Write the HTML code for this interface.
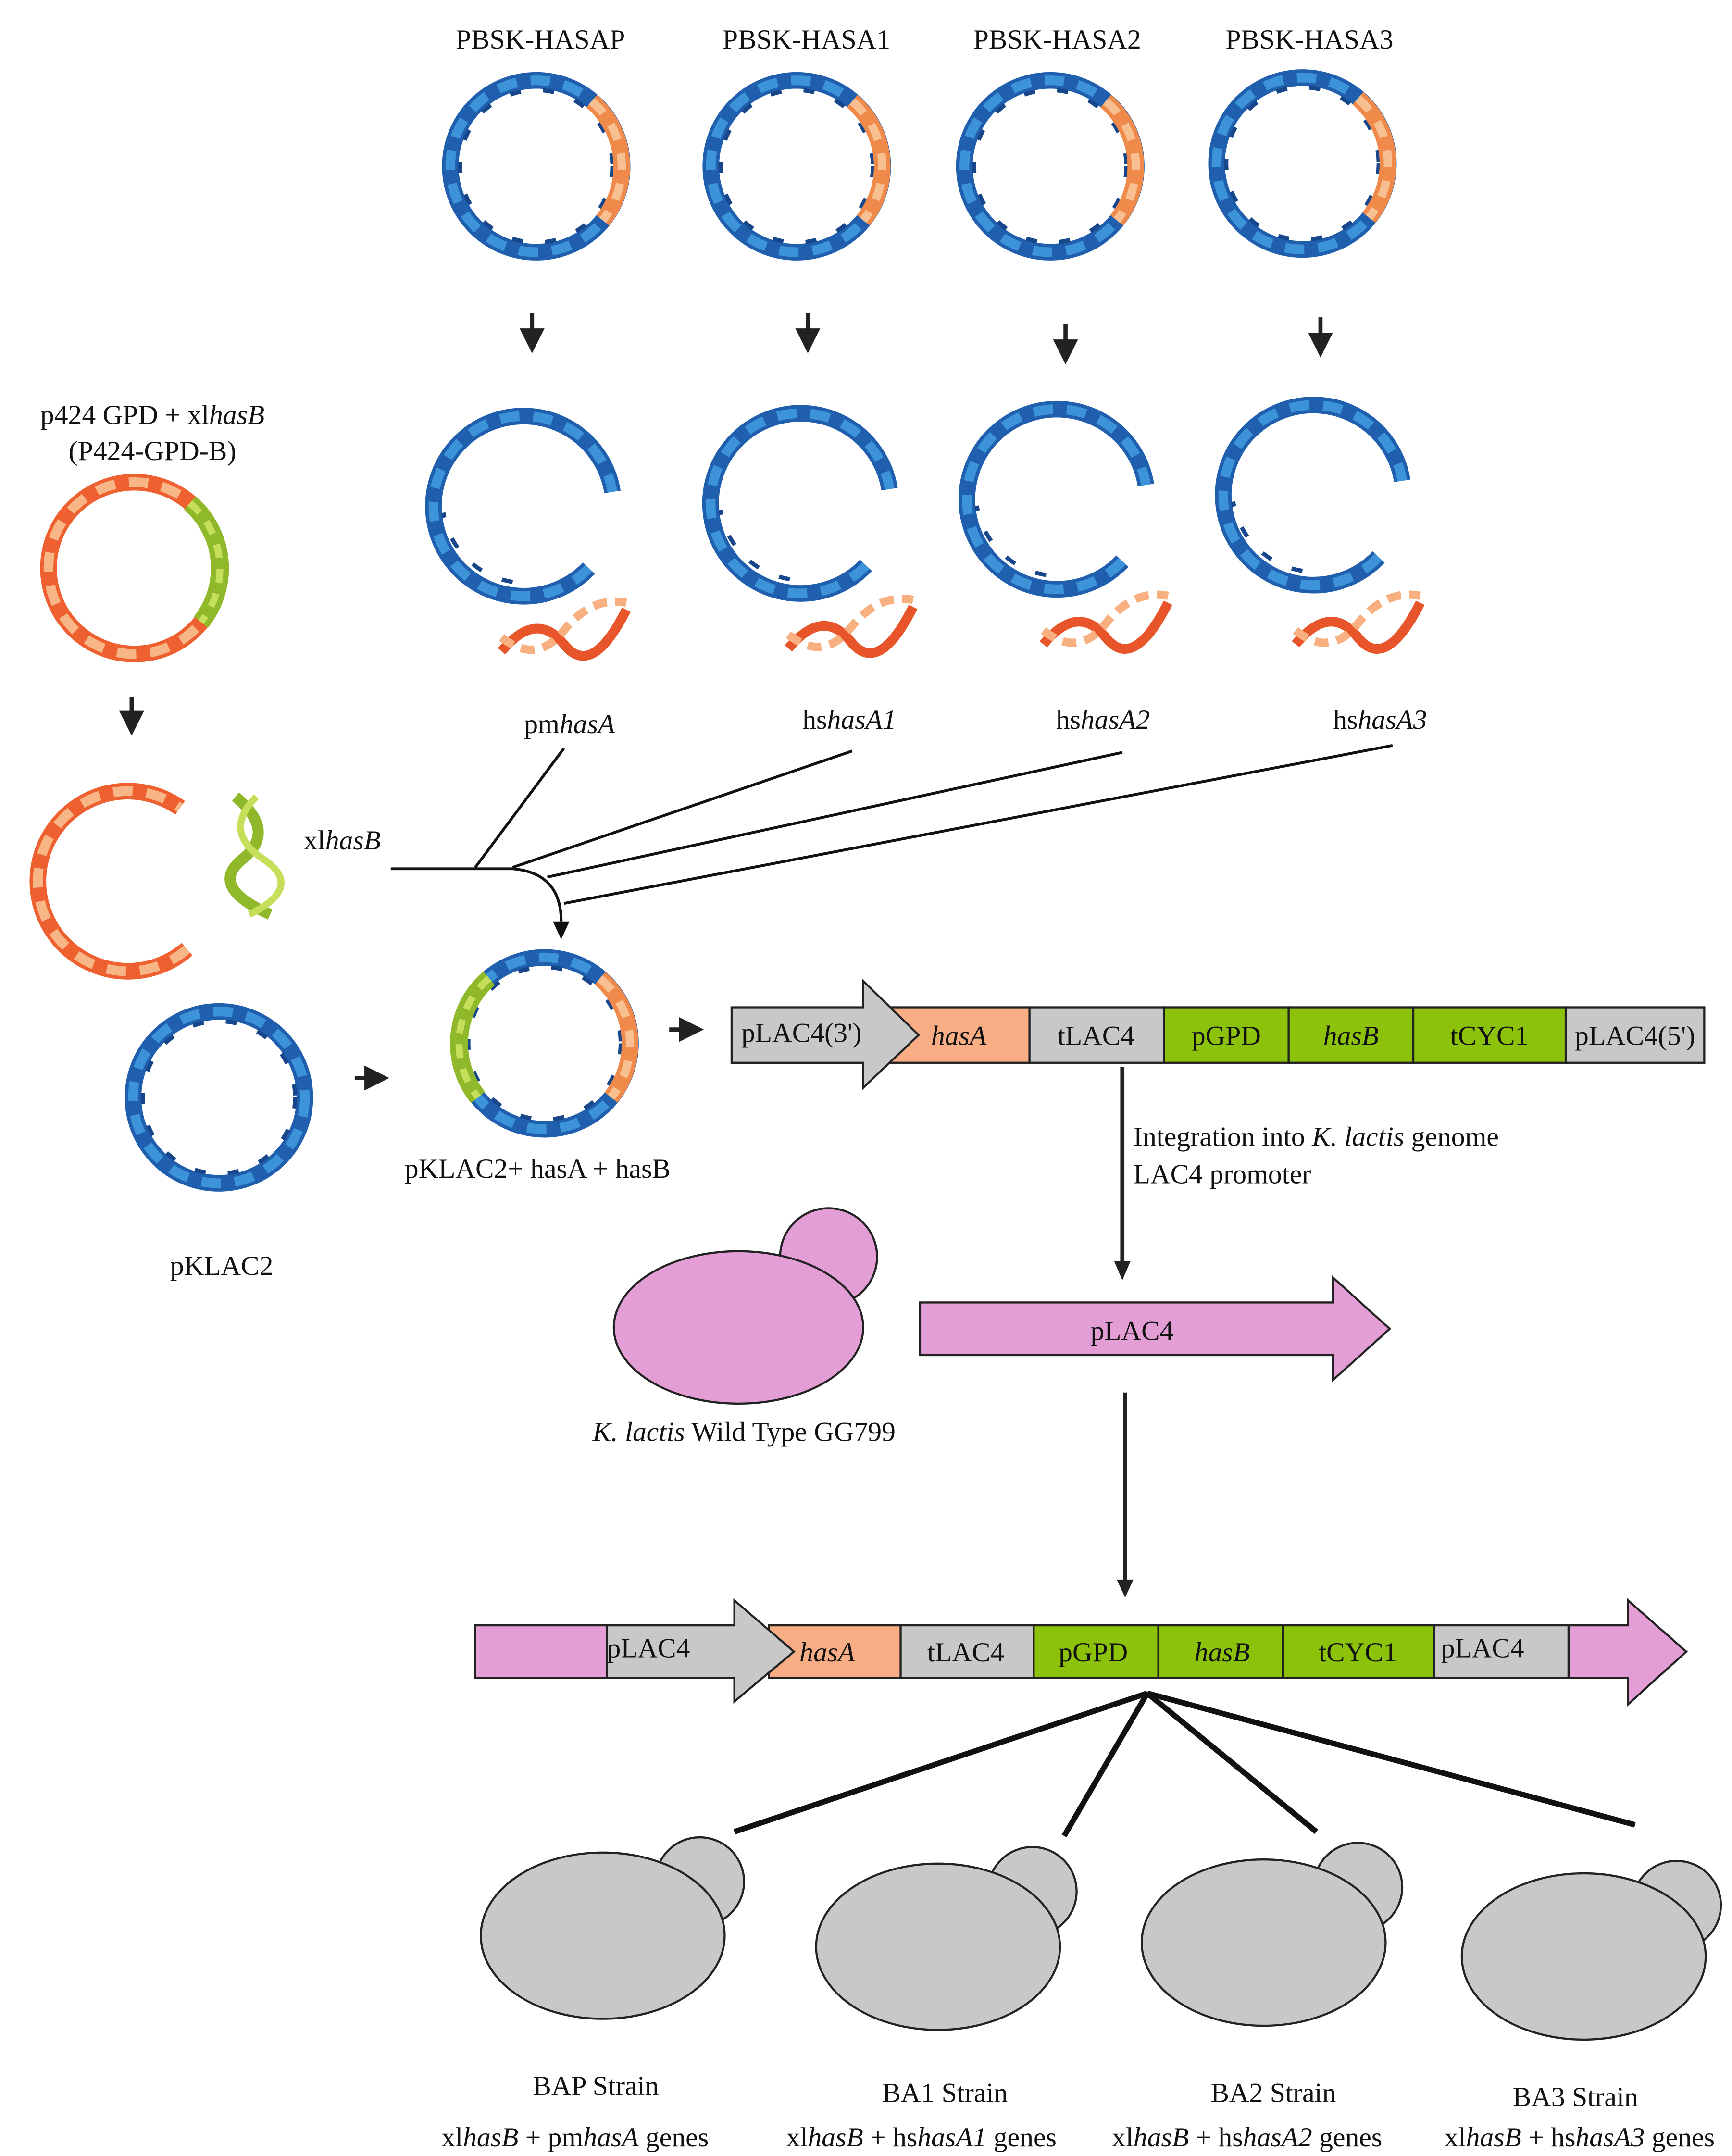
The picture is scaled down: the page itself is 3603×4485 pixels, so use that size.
<!DOCTYPE html>
<html><head><meta charset="utf-8"><style>
html,body{margin:0;padding:0;background:#fff}
svg{display:block}
text{font-family:"Liberation Serif",serif;font-size:20px;fill:#111}
</style></head><body>
<svg width="3603" height="4485" viewBox="0 0 1250 1556" xmlns="http://www.w3.org/2000/svg">
<defs>
<marker id="ah" markerWidth="6" markerHeight="6" refX="3" refY="3" orient="auto" markerUnits="strokeWidth"><path d="M0,0L6,3L0,6z" fill="#222"/></marker>
<g id="bluering">
<circle r="62" fill="none" stroke="#1f5fae" stroke-width="12"/>
<circle r="62" fill="none" stroke="#3d93d8" stroke-width="7" stroke-dasharray="14 10"/>
<circle r="55" fill="none" stroke="#17468a" stroke-width="3" stroke-dasharray="8 16"/>
</g>
<g id="orangeseg">
<path d="M40,-47 A62,62 0 0 1 48,39" fill="none" stroke="#f08a4b" stroke-width="12"/>
<path d="M40,-47 A62,62 0 0 1 48,39" fill="none" stroke="#f8c090" stroke-width="6" stroke-dasharray="12 10"/>
</g>
<g id="openring">
<path d="M45,50 A65,65 0 1 1 62,-5" fill="none" stroke="#1f5fae" stroke-width="12"/>
<path d="M45,50 A65,65 0 1 1 62,-5" fill="none" stroke="#3d93d8" stroke-width="7" stroke-dasharray="14 10"/>
<path d="M-10,60 A60,60 0 0 1 -60,10" fill="none" stroke="#17468a" stroke-width="3" stroke-dasharray="8 16"/>
</g>
<g id="frag">
<path d="M-45,10 Q-20,-20 0,5 T45,-20" fill="none" stroke="#e8552a" stroke-width="7"/>
<path d="M-45,0 Q-20,20 0,-5 T45,-25" fill="none" stroke="#f8b080" stroke-width="6" stroke-dasharray="10 6"/>
</g>
<g id="orangering">
<circle r="62" fill="none" stroke="#ee6030" stroke-width="12"/>
<circle r="62" fill="none" stroke="#f8b585" stroke-width="7" stroke-dasharray="14 10"/>
</g>
</defs>

<!-- top labels -->
<g text-anchor="middle">
<text x="390" y="35">PBSK-HASAP</text>
<text x="582" y="35">PBSK-HASA1</text>
<text x="763" y="35">PBSK-HASA2</text>
<text x="945" y="35">PBSK-HASA3</text>
</g>
<g transform="translate(387,120)"><use href="#bluering"/><use href="#orangeseg"/></g>
<g transform="translate(575,120)"><use href="#bluering"/><use href="#orangeseg"/></g>
<g transform="translate(758,120)"><use href="#bluering"/><use href="#orangeseg"/></g>
<g transform="translate(940,118)"><use href="#bluering"/><use href="#orangeseg"/></g>

<g stroke="#222" stroke-width="3" marker-end="url(#ah)">
<line x1="384" y1="226" x2="384" y2="246"/>
<line x1="583" y1="226" x2="583" y2="246"/>
<line x1="769" y1="234" x2="769" y2="254"/>
<line x1="953" y1="229" x2="953" y2="249"/>
<line x1="95" y1="503" x2="95" y2="522"/>
<line x1="256" y1="778" x2="272" y2="778"/>
<line x1="483" y1="743" x2="499" y2="743"/>
</g>

<g transform="translate(380,360)"><use href="#openring"/></g>
<g transform="translate(580,358)"><use href="#openring"/></g>
<g transform="translate(765,355)"><use href="#openring"/></g>
<g transform="translate(950,352)"><use href="#openring"/></g>
<g transform="translate(407,460)"><use href="#frag"/></g>
<g transform="translate(614,458)"><use href="#frag"/></g>
<g transform="translate(798,455)"><use href="#frag"/></g>
<g transform="translate(980,455)"><use href="#frag"/></g>

<g text-anchor="middle">
<text x="411" y="529">pm<tspan font-style="italic">hasA</tspan></text>
<text x="613" y="526">hs<tspan font-style="italic">hasA1</tspan></text>
<text x="796" y="526">hs<tspan font-style="italic">hasA2</tspan></text>
<text x="996" y="526">hs<tspan font-style="italic">hasA3</tspan></text>
</g>

<!-- converging lines -->
<g stroke="#111" stroke-width="2" fill="none">
<line x1="407" y1="540" x2="343" y2="626"/>
<line x1="615" y1="542" x2="370" y2="626"/>
<line x1="810" y1="543" x2="395" y2="633"/>
<line x1="1005" y1="538" x2="407" y2="652"/>
<path d="M282,627 L370,627 Q405,630 405,665"/>
</g>
<path d="M399,665 L411,665 L405,678z" fill="#111"/>

<!-- left -->
<text x="110" y="306" text-anchor="middle">p424 GPD + xl<tspan font-style="italic">hasB</tspan></text>
<text x="110" y="332" text-anchor="middle">(P424-GPD-B)</text>
<g transform="translate(97,410)"><use href="#orangering"/>
<path d="M40,-47 A62,62 0 0 1 48,39" fill="none" stroke="#8fb82a" stroke-width="13"/>
<path d="M40,-47 A62,62 0 0 1 48,39" fill="none" stroke="#c6df5a" stroke-width="5" stroke-dasharray="10 8"/></g>
<g transform="translate(90,635)">
<path d="M45,50 A65,65 0 1 1 40,-52" fill="none" stroke="#ee6030" stroke-width="12"/>
<path d="M45,50 A65,65 0 1 1 40,-52" fill="none" stroke="#f8b585" stroke-width="7" stroke-dasharray="14 10"/></g>
<path d="M170,575 Q200,600 175,620 T195,660" fill="none" stroke="#8fb82a" stroke-width="8"/>
<path d="M185,575 Q160,600 190,620 T180,660" fill="none" stroke="#c6df5a" stroke-width="5"/>
<text x="247" y="613" text-anchor="middle">xl<tspan font-style="italic">hasB</tspan></text>

<g transform="translate(158,792)"><use href="#bluering"/></g>
<text x="160" y="920" text-anchor="middle">pKLAC2</text>

<g transform="translate(393,753)"><use href="#bluering"/><use href="#orangeseg"/>
<path d="M-40,-47 A62,62 0 0 0 -48,39" fill="none" stroke="#8fb82a" stroke-width="13"/>
<path d="M-40,-47 A62,62 0 0 0 -48,39" fill="none" stroke="#c6df5a" stroke-width="5" stroke-dasharray="10 8"/></g>
<text x="388" y="850" text-anchor="middle">pKLAC2+ hasA + hasB</text>

<!-- gene bar 1 -->
<g stroke="#222" stroke-width="1.5">
<rect x="640" y="727" width="103" height="40" fill="#f8ad85"/>
<rect x="743" y="727" width="97" height="40" fill="#c8c8c8"/>
<rect x="840" y="727" width="90" height="40" fill="#8cc20a"/>
<rect x="930" y="727" width="90" height="40" fill="#8cc20a"/>
<rect x="1020" y="727" width="110" height="40" fill="#8cc20a"/>
<rect x="1130" y="727" width="100" height="40" fill="#c8c8c8"/>
<path d="M528,727 L623,727 L623,708 L663,747 L623,785 L623,767 L528,767z" fill="#c8c8c8"/>
</g>
<g font-size="18">
<text x="535" y="752">pLAC4(3')</text>
<text x="692" y="754" text-anchor="middle" font-style="italic" font-size="17">hasA</text>
<text x="791" y="754" text-anchor="middle">tLAC4</text>
<text x="885" y="754" text-anchor="middle">pGPD</text>
<text x="975" y="754" text-anchor="middle" font-style="italic">hasB</text>
<text x="1075" y="754" text-anchor="middle">tCYC1</text>
<text x="1180" y="754" text-anchor="middle">pLAC4(5')</text>
</g>

<line x1="810" y1="770" x2="810" y2="912" stroke="#222" stroke-width="3"/>
<path d="M804,910 L816,910 L810,924z" fill="#222"/>
<text x="818" y="827">Integration into <tspan font-style="italic">K. lactis</tspan> genome</text>
<text x="818" y="854">LAC4 promoter</text>

<!-- pink yeast -->
<g fill="#e49ed6" stroke="#222" stroke-width="1.5">
<circle cx="598" cy="907" r="35"/>
<ellipse cx="533" cy="958" rx="90" ry="55"/>
</g>
<ellipse cx="533" cy="958" rx="88" ry="53" fill="#e49ed6"/>
<text x="537" y="1040" text-anchor="middle"><tspan font-style="italic">K. lactis</tspan> Wild Type GG799</text>

<path d="M664,940 L962,940 L962,922 L1003,959 L962,996 L962,978 L664,978z" fill="#e49ed6" stroke="#222" stroke-width="1.5"/>
<text x="817" y="967" text-anchor="middle">pLAC4</text>

<line x1="812" y1="1005" x2="812" y2="1142" stroke="#222" stroke-width="3"/>
<path d="M806,1140 L818,1140 L812,1153z" fill="#222"/>

<!-- gene bar 2 -->
<g stroke="#222" stroke-width="1.5">
<path d="M1035,1173 L1175,1173 L1175,1155 L1217,1192 L1175,1230 L1175,1211 L1035,1211z" fill="#e49ed6"/>
<rect x="1035" y="1173" width="97" height="38" fill="#c8c8c8"/>
<rect x="555" y="1173" width="95" height="38" fill="#f8ad85"/>
<rect x="650" y="1173" width="96" height="38" fill="#c8c8c8"/>
<rect x="746" y="1173" width="90" height="38" fill="#8cc20a"/>
<rect x="836" y="1173" width="90" height="38" fill="#8cc20a"/>
<rect x="926" y="1173" width="109" height="38" fill="#8cc20a"/>
<path d="M343,1173 L530,1173 L530,1155 L573,1192 L530,1228 L530,1211 L343,1211z" fill="#c8c8c8"/>
<rect x="343" y="1173" width="95" height="38" fill="#e49ed6"/>
</g>
<g font-size="18">
<text x="468" y="1196" text-anchor="middle">pLAC4</text>
<text x="597" y="1199" text-anchor="middle" font-style="italic" font-size="17">hasA</text>
<text x="697" y="1199" text-anchor="middle">tLAC4</text>
<text x="789" y="1199" text-anchor="middle">pGPD</text>
<text x="882" y="1199" text-anchor="middle" font-style="italic">hasB</text>
<text x="980" y="1199" text-anchor="middle">tCYC1</text>
<text x="1070" y="1196" text-anchor="middle">pLAC4</text>
</g>

<g stroke="#111" stroke-width="4">
<line x1="828" y1="1222" x2="530" y2="1322"/>
<line x1="828" y1="1222" x2="768" y2="1325"/>
<line x1="828" y1="1222" x2="950" y2="1322"/>
<line x1="828" y1="1222" x2="1180" y2="1317"/>
</g>

<!-- gray yeasts -->
<g fill="#c8c8c8" stroke="#222" stroke-width="1.5">
<circle cx="505" cy="1358" r="32"/><ellipse cx="435" cy="1397" rx="88" ry="60"/>
<circle cx="745" cy="1365" r="32"/><ellipse cx="677" cy="1405" rx="88" ry="60"/>
<circle cx="980" cy="1362" r="32"/><ellipse cx="912" cy="1402" rx="88" ry="60"/>
<circle cx="1210" cy="1375" r="32"/><ellipse cx="1143" cy="1412" rx="88" ry="60"/>
</g>
<g fill="#c8c8c8">
<ellipse cx="435" cy="1397" rx="86" ry="58"/>
<ellipse cx="677" cy="1405" rx="86" ry="58"/>
<ellipse cx="912" cy="1402" rx="86" ry="58"/>
<ellipse cx="1143" cy="1412" rx="86" ry="58"/>
</g>

<g text-anchor="middle">
<text x="430" y="1512">BAP Strain</text>
<text x="415" y="1549">xl<tspan font-style="italic">hasB</tspan> + pm<tspan font-style="italic">hasA</tspan> genes</text>
<text x="682" y="1517">BA1 Strain</text>
<text x="665" y="1549">xl<tspan font-style="italic">hasB</tspan> + hs<tspan font-style="italic">hasA1</tspan> genes</text>
<text x="919" y="1517">BA2 Strain</text>
<text x="900" y="1549">xl<tspan font-style="italic">hasB</tspan> + hs<tspan font-style="italic">hasA2</tspan> genes</text>
<text x="1137" y="1520">BA3 Strain</text>
<text x="1140" y="1549">xl<tspan font-style="italic">hasB</tspan> + hs<tspan font-style="italic">hasA3</tspan> genes</text>
</g>
</svg>
</body></html>
